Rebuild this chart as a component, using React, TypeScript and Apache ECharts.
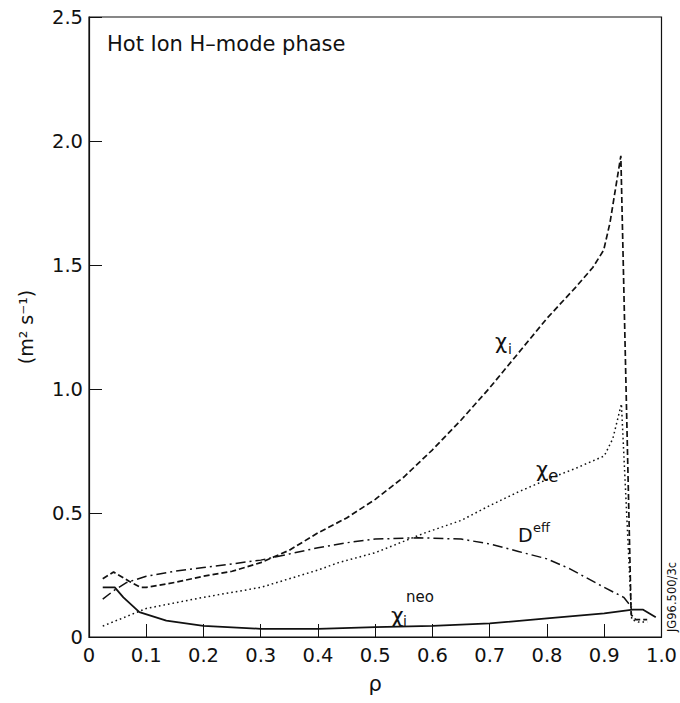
import React, { useEffect, useRef } from "react";
import * as echarts from "echarts";

// ρ values / diffusivities (m^2 s^-1)
const chiI: [number, number][] = [
  [0.024, 0.235], [0.043, 0.262], [0.07, 0.225], [0.09, 0.2], [0.1, 0.2],
  [0.15, 0.22], [0.2, 0.245], [0.25, 0.265], [0.3, 0.3], [0.35, 0.35],
  [0.4, 0.42], [0.45, 0.48], [0.5, 0.555], [0.55, 0.645], [0.6, 0.755],
  [0.65, 0.875], [0.7, 1.005], [0.75, 1.145], [0.8, 1.285], [0.85, 1.41],
  [0.88, 1.49], [0.899, 1.56], [0.91, 1.67], [0.929, 1.94], [0.947, 0.09],
  [0.955, 0.07], [0.975, 0.07],
];

const chiE: [number, number][] = [
  [0.024, 0.044], [0.1, 0.115], [0.2, 0.16], [0.3, 0.2], [0.4, 0.27],
  [0.436, 0.3], [0.5, 0.34], [0.587, 0.42], [0.65, 0.47], [0.7, 0.53],
  [0.75, 0.585], [0.8, 0.635], [0.85, 0.68], [0.9, 0.73], [0.915, 0.8],
  [0.93, 0.94], [0.948, 0.07], [0.96, 0.06], [0.975, 0.06],
];

const dEff: [number, number][] = [
  [0.024, 0.153], [0.045, 0.19], [0.066, 0.22], [0.1, 0.245], [0.15, 0.265],
  [0.2, 0.28], [0.3, 0.31], [0.35, 0.335], [0.4, 0.36], [0.45, 0.38],
  [0.5, 0.395], [0.575, 0.4], [0.65, 0.395], [0.7, 0.375], [0.75, 0.345],
  [0.8, 0.315], [0.84, 0.275], [0.9, 0.2], [0.934, 0.16], [0.948, 0.12],
];

const chiNeo: [number, number][] = [
  [0.024, 0.2], [0.045, 0.2], [0.06, 0.16], [0.088, 0.1], [0.135, 0.066],
  [0.2, 0.045], [0.3, 0.033], [0.4, 0.033], [0.5, 0.04], [0.6, 0.045],
  [0.7, 0.055], [0.8, 0.075], [0.9, 0.095], [0.95, 0.11], [0.968, 0.11],
  [0.99, 0.08],
];

const FONT = "DejaVu Sans";
const INK = "#111";

const fmt = (v: number) => (v === 0 ? "0" : v.toFixed(1));

export default function App() {
  const ref = useRef<HTMLDivElement>(null);

  useEffect(() => {
    if (!ref.current) return;
    const chart = echarts.init(ref.current, undefined, { renderer: "svg" });

    const lineSeries = (
      name: string,
      data: [number, number][],
      type: any,
      width: number
    ) => ({
      name,
      type: "line",
      data,
      showSymbol: false,
      symbol: "none",
      smooth: false,
      lineStyle: { color: INK, width, type },
      z: 3,
    });

    const txt = (
      text: string,
      x: number,
      y: number,
      fontSize: number,
      extra: any = {}
    ) => ({
      type: "text",
      x,
      y,
      ...extra,
      style: {
        text,
        fontFamily: FONT,
        fontSize,
        fill: INK,
        textAlign: "left",
        textVerticalAlign: "middle",
        ...(extra.style || {}),
      },
    });

    chart.setOption({
      animation: false,
      backgroundColor: "#fff",
      textStyle: { fontFamily: FONT, color: INK },
      grid: {
        left: 89,
        right: 15,
        top: 17,
        bottom: 66,
        show: true,
        borderColor: INK,
        borderWidth: 1.2,
      },
      xAxis: {
        type: "value",
        min: 0,
        max: 1,
        interval: 0.1,
        name: "ρ",
        nameLocation: "middle",
        nameGap: 36,
        nameTextStyle: { fontSize: 21, fontFamily: FONT, color: INK },
        axisLine: { show: true, lineStyle: { color: INK, width: 1.2 } },
        axisTick: { show: true, inside: true, length: 13, lineStyle: { color: INK } },
        axisLabel: { formatter: fmt, fontSize: 19.5, margin: 8, color: INK, fontFamily: FONT },
        splitLine: { show: false },
      },
      yAxis: {
        type: "value",
        min: 0,
        max: 2.5,
        interval: 0.5,
        name: "(m² s⁻¹)",
        nameLocation: "middle",
        nameGap: 54,
        nameTextStyle: { fontSize: 19, fontFamily: FONT, color: INK },
        axisLine: { show: true, lineStyle: { color: INK, width: 1.2 } },
        axisTick: { show: true, inside: true, length: 13, lineStyle: { color: INK } },
        axisLabel: { formatter: fmt, fontSize: 19.5, margin: 6, color: INK, fontFamily: FONT },
        splitLine: { show: false },
      },
      series: [
        lineSeries("χi", chiI, [6, 3], 1.7),
        lineSeries("χe", chiE, [1.6, 3], 1.5),
        lineSeries("Deff", dEff, [10, 4, 2, 4], 1.5),
        lineSeries("χi neo", chiNeo, "solid", 1.8),
      ],
      graphic: [
        txt("Hot Ion H–mode phase", 107, 44, 21),
        txt("χ", 495, 342, 21),
        txt("i", 508, 349, 14),
        txt("χ", 536, 470, 21),
        txt("e", 548, 476, 17),
        txt("D", 518, 535, 19),
        txt("eff", 533, 527, 13),
        txt("neo", 406, 597, 15),
        txt("χ", 391, 615, 22),
        txt("i", 403, 621, 14),
        txt("JG96.500/3c", 672, 597, 11.5, {
          rotation: Math.PI / 2,
          style: { textAlign: "center" },
        }),
      ],
    });

    return () => chart.dispose();
  }, []);

  return (
    <div
      ref={ref}
      style={{ position: "fixed", left: 0, top: 0, width: 680, height: 703, background: "#fff" }}
    />
  );
}
